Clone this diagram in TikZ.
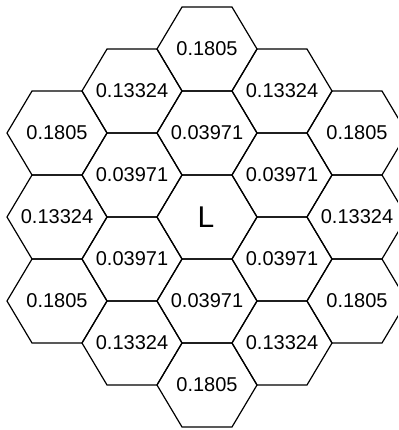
\documentclass[tikz,border=0pt]{standalone}
\usepackage{fontspec}
\setmainfont{Liberation Sans}

\begin{document}
\begin{tikzpicture}[x=0.5pt,y=-0.5pt,
  cell/.style={draw=black,line width=0.6pt,line join=miter},
  val/.style={font=\fontsize{10}{12}\selectfont,inner sep=0pt},
  big/.style={font=\fontsize{15}{18}\selectfont,inner sep=0pt}]
\useasboundingbox (0,0) rectangle (398,430);
\clip (0,0) rectangle (398,430);

% ---- hexagon cells (centre x / centre y / value / name) ----
\foreach \cx/\cy/\t/\n in {
  207/49/0.1805/ctop, 207/133/0.03971/cup, 207/301/0.03971/cdown, 207/385/0.1805/cbot,
  132/91/0.13324/la, 132/175/0.03971/lb, 132/259/0.03971/lc, 132/343/0.13324/ld,
  282/91/0.13324/ra, 282/175/0.03971/rb, 282/259/0.03971/rc, 282/343/0.13324/rd,
  57/133/0.1805/lla, 57/217/0.13324/llb, 57/301/0.1805/llc,
  357/133/0.1805/rra, 357/217/0.13324/rrb, 357/301/0.1805/rrc}{
  \draw[cell] (\cx-50,\cy) -- ++(25,-42) -- ++(50,0) -- ++(25,42)
              -- ++(-25,42) -- ++(-50,0) -- cycle;
  \node[val] (\n) at (\cx,\cy) {\t};
}

% ---- centre cell ----
\draw[cell] (157,217) -- ++(25,-42) -- ++(50,0) -- ++(25,42)
            -- ++(-25,42) -- ++(-50,0) -- cycle;
\node[big] (L) at (206,217) {L};
\end{tikzpicture}
\end{document}
